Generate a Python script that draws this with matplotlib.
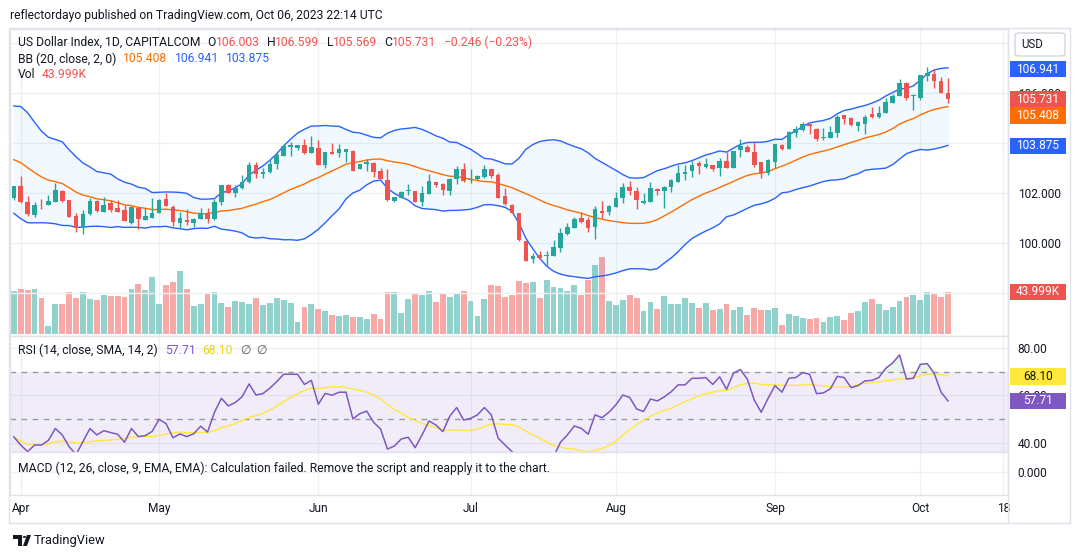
import numpy as np
import pandas as pd
import matplotlib
matplotlib.use("Agg")
import matplotlib.pyplot as plt
from matplotlib import transforms
from matplotlib.patches import Rectangle, FancyBboxPatch, Circle, Polygon
from matplotlib.lines import Line2D

plt.rcParams['font.family'] = ['Roboto', 'DejaVu Sans']

W, H = 1080, 557

# US Dollar Index, 1D, CAPITALCOM
start_date = '2023-03-31'
axis_end = '2023-10-18'

opens = [101.80, 102.27, 101.61, 101.11, 101.48, 101.52, 101.63, 102.07, 101.69, 101.07,
         100.57, 101.15, 101.67, 101.24, 101.60, 101.40, 101.31, 100.80, 101.40, 100.91,
         101.00, 101.20, 101.75, 101.43, 100.80, 100.91, 100.80, 100.95, 101.20, 100.95,
         101.64, 102.31, 102.00, 102.17, 102.44, 103.11, 102.76, 102.81, 103.15, 103.48,
         103.83, 103.80, 103.91, 103.59, 103.79, 103.11, 103.63, 103.59, 103.64, 103.67,
         102.93, 103.16, 103.17, 102.85, 102.51, 101.67, 101.80, 102.05, 102.07, 101.61,
         101.96, 102.41, 102.35, 102.08, 102.55, 102.95, 102.51, 102.55, 102.61, 102.95,
         102.71, 101.87, 101.51, 101.20, 100.08, 99.33, 99.51, 99.47, 99.48, 99.80,
         100.34, 100.60, 100.97, 100.89, 100.63, 101.27, 101.23, 101.44, 101.77, 102.21,
         102.07, 101.59, 101.64, 102.15, 102.08, 102.23, 102.44, 102.76, 102.87, 103.19,
         103.04, 103.12, 102.97, 103.27, 103.00, 103.71, 103.81, 103.61, 103.21, 102.77,
         103.24, 103.91, 103.76, 104.37, 104.49, 104.75, 104.55, 104.20, 104.20, 104.40,
         105.11, 104.99, 104.68, 104.75, 105.15, 105.01, 105.20, 105.57, 105.88, 106.37,
         105.85, 105.80, 106.67, 106.73, 106.47, 106.003]
highs = [102.28, 102.67, 101.87, 101.61, 101.75, 101.91, 102.40, 102.11, 101.72, 101.20,
         101.31, 101.80, 101.71, 101.81, 101.71, 101.69, 101.51, 101.47, 101.44, 101.37,
         101.79, 101.73, 101.99, 101.51, 101.23, 101.33, 100.97, 101.40, 101.37, 101.73,
         102.31, 102.35, 102.29, 102.71, 103.24, 103.21, 102.99, 103.29, 103.64, 103.93,
         104.04, 103.91, 104.16, 104.27, 104.11, 103.64, 103.99, 103.96, 103.75, 103.71,
         103.15, 103.34, 103.24, 102.99, 102.95, 101.84, 102.08, 102.33, 102.07, 102.28,
         102.75, 102.41, 102.40, 102.60, 103.08, 103.17, 102.95, 102.69, 103.10, 102.95,
         102.79, 102.20, 101.53, 101.20, 100.08, 99.60, 99.68, 99.67, 100.11, 100.57,
         100.77, 101.03, 101.21, 101.04, 101.47, 101.67, 101.51, 102.04, 102.37, 102.47,
         102.23, 101.97, 102.41, 102.17, 102.28, 102.55, 103.11, 103.11, 103.25, 103.27,
         103.37, 103.12, 103.37, 103.64, 103.68, 104.13, 103.91, 104.01, 103.21, 103.35,
         103.95, 103.95, 104.47, 104.67, 104.83, 104.75, 104.57, 104.57, 104.67, 105.11,
         105.11, 105.01, 104.88, 105.11, 105.44, 105.47, 105.77, 105.93, 106.55, 106.43,
         105.93, 106.71, 107.04, 106.93, 106.61, 106.599]
lows = [101.69, 101.60, 101.08, 101.04, 101.33, 101.50, 101.61, 101.64, 101.03, 100.44,
        100.36, 101.11, 101.24, 101.24, 101.24, 101.24, 100.87, 100.75, 100.55, 100.91,
        101.00, 101.20, 101.47, 100.67, 100.60, 100.71, 100.61, 100.95, 100.80, 100.91,
        101.51, 101.97, 101.83, 102.15, 102.39, 102.60, 102.60, 102.79, 102.95, 103.48,
        103.48, 103.69, 103.53, 103.59, 103.12, 103.00, 103.53, 103.43, 103.24, 102.88,
        102.93, 102.88, 102.64, 102.56, 101.67, 101.61, 101.80, 101.91, 101.61, 101.47,
        101.96, 102.23, 101.91, 101.91, 102.36, 102.41, 102.40, 102.52, 102.58, 102.57,
        101.80, 101.51, 101.20, 100.08, 99.28, 99.17, 99.37, 99.08, 99.48, 99.61,
        100.31, 100.60, 100.77, 100.43, 100.15, 101.00, 101.11, 101.44, 101.60, 101.91,
        101.35, 101.55, 101.64, 101.91, 101.37, 102.04, 102.44, 102.51, 102.64, 102.75,
        103.00, 102.85, 102.68, 102.98, 102.97, 103.44, 103.64, 103.04, 102.60, 102.71,
        102.97, 103.71, 103.76, 104.24, 104.47, 104.35, 104.08, 104.11, 104.20, 104.24,
        104.75, 104.68, 104.47, 104.35, 104.97, 104.99, 105.20, 105.57, 105.88, 105.71,
        105.31, 105.71, 106.48, 106.20, 105.977, 105.569]
closes = [102.27, 101.64, 101.15, 101.51, 101.45, 101.67, 102.11, 101.67, 101.04, 100.57,
          101.13, 101.67, 101.27, 101.51, 101.31, 101.24, 100.87, 101.43, 100.95, 101.07,
          101.20, 101.71, 101.47, 100.84, 100.99, 100.83, 100.95, 101.20, 100.96, 101.63,
          102.31, 102.00, 102.17, 102.41, 103.11, 102.76, 102.84, 103.15, 103.51, 103.88,
          103.89, 103.91, 103.60, 103.83, 103.12, 103.64, 103.56, 103.75, 103.75, 102.88,
          103.15, 103.23, 102.84, 102.56, 101.71, 101.81, 102.01, 102.11, 101.64, 101.99,
          102.47, 102.31, 102.09, 102.55, 102.95, 102.47, 102.53, 102.67, 102.95, 102.67,
          101.80, 101.53, 101.20, 100.11, 99.28, 99.47, 99.40, 99.51, 99.81, 100.37,
          100.61, 100.93, 100.81, 100.60, 101.35, 101.19, 101.47, 101.77, 102.21, 102.07,
          101.72, 101.67, 102.17, 102.07, 102.24, 102.51, 102.79, 102.83, 103.11, 103.08,
          103.15, 102.96, 103.27, 103.00, 103.68, 103.87, 103.64, 103.11, 102.77, 103.31,
          103.95, 103.73, 104.44, 104.53, 104.73, 104.68, 104.15, 104.24, 104.44, 105.04,
          104.95, 104.71, 104.84, 105.04, 105.04, 105.20, 105.63, 105.88, 106.37, 105.80,
          105.89, 106.71, 106.77, 106.48, 105.977, 105.731]
# closes before Mar 31, needed for the first 20-day bands
march_closes = [103.98, 105.29, 105.33, 104.97, 104.25, 103.27, 103.28, 104.30, 104.08, 103.53,
                102.95, 102.98, 102.21, 102.19, 102.78, 102.53, 102.11, 102.31, 101.82]

volume_k = [45.0, 47.1, 46.1, 47.1, 38.1, 8.7, 31.4, 31.4, 44.0, 38.1,
            44.0, 36.7, 35.6, 40.9, 39.8, 39.8, 38.8, 47.1, 52.4, 46.1,
            59.7, 31.4, 51.3, 54.5, 66.0, 47.1, 29.3, 31.4, 41.9, 44.0,
            32.5, 28.3, 34.6, 33.5, 31.4, 37.7, 30.4, 32.5, 37.7, 35.6,
            32.5, 12.6, 28.3, 31.4, 26.2, 24.1, 19.9, 18.9, 19.9, 17.8,
            17.8, 15.7, 21.0, 15.7, 44.0, 44.0, 22.0, 36.7, 41.9, 40.9,
            45.0, 33.5, 41.9, 38.8, 41.9, 45.0, 34.6, 18.9, 36.7, 51.3,
            50.3, 38.8, 40.9, 55.5, 53.4, 54.5, 37.7, 56.6, 49.2, 48.2,
            45.0, 51.3, 40.9, 56.6, 72.3, 80.7, 34.6, 30.4, 35.6, 40.9,
            37.7, 24.1, 33.5, 26.2, 39.8, 31.4, 31.4, 37.7, 32.5, 27.2,
            32.5, 25.1, 26.2, 31.4, 25.1, 28.3, 19.9, 27.2, 25.1, 25.1,
            27.2, 9.4, 21.0, 18.9, 16.8, 15.7, 16.8, 12.6, 17.8, 18.9,
            14.7, 22.0, 24.1, 33.5, 36.7, 31.4, 25.1, 28.3, 34.6, 38.8,
            40.9, 35.6, 44.0, 41.9, 38.8, 43.999]

rsi = [42.5, 39.0, 36.2, 39.0, 39.0, 41.0, 46.0, 43.3, 38.3, 35.0,
       40.5, 46.0, 43.3, 45.1, 44.3, 43.6, 40.2, 46.0, 42.6, 43.0,
       44.8, 49.9, 48.1, 42.1, 43.7, 42.6, 43.8, 47.0, 44.5, 52.9,
       58.8, 55.6, 57.0, 59.5, 64.9, 60.2, 60.8, 63.1, 65.9, 69.0,
       69.0, 69.0, 64.7, 66.4, 56.3, 60.9, 60.1, 61.4, 61.4, 50.1,
       52.3, 53.4, 48.6, 45.8, 37.3, 38.6, 41.6, 42.3, 37.9, 43.3,
       49.2, 47.5, 44.7, 51.2, 54.9, 49.6, 50.3, 51.8, 54.9, 51.8,
       41.9, 39.0, 36.2, 30.0, 24.0, 26.0, 25.0, 28.0, 34.0, 40.2,
       43.3, 47.1, 46.1, 43.6, 51.8, 50.6, 52.9, 56.0, 60.2, 59.2,
       54.3, 53.2, 58.5, 57.7, 59.4, 61.6, 64.5, 64.5, 67.3, 67.3,
       67.6, 64.7, 67.9, 62.6, 69.5, 71.0, 66.9, 58.1, 52.9, 58.8,
       64.2, 61.4, 67.3, 67.6, 69.7, 69.0, 60.8, 61.1, 62.8, 68.1,
       67.6, 63.3, 64.2, 66.2, 66.4, 67.6, 71.5, 73.8, 77.2, 67.0,
       67.3, 73.2, 73.5, 69.4, 61.4, 57.71]

# values shown in the legends
ohlc_last = ['106.003', '106.599', '105.569', '105.731']
change_text = '\u22120.246 (\u22120.23%)'
bb_last = [105.408, 106.941, 103.875]
rsi_last = [57.71, 68.10]
price_ticks = [100, 102, 104, 106]
rsi_ticks = [40, 60, 80]

# colours
UP, DOWN = '#26A69A', '#EF5350'
VUP, VDOWN = '#92D2CC', '#F7A9A7'
BLUE, ORANGE = '#2962FF', '#FF6D00'
PURPLE, YELLOW = '#7E57C2', '#FFE83B'
TXT = '#131722'
GRID = '#EEF0F4'
BORDER = '#E0E3EB'

# ---- derived series ----
n = len(closes)
x = np.arange(n)
o, h, l, c = (np.array(v) for v in (opens, highs, lows, closes))
up = c >= o

full = pd.Series(march_closes + closes)
mid = full.rolling(20).mean().to_numpy()[len(march_closes):]
sd = full.rolling(20).std(ddof=0).to_numpy()[len(march_closes):]
upper, lower = mid + 2 * sd, mid - 2 * sd

rsi_arr = np.array(rsi)
rsi_ma = pd.Series(rsi).rolling(14, min_periods=1).mean().to_numpy()

days = pd.bdate_range(start_date, axis_end)
tick_pos, tick_lab = [], []
for m in range(4, 11):
    idx = np.where(days.month == m)[0][0]
    tick_pos.append(idx)
    tick_lab.append(days[idx].strftime('%b'))
tick_pos.append(len(days) - 1)
tick_lab.append(str(days[-1].day))

# ---- layout (pixel based) ----
fig = plt.figure(figsize=(W / 100, H / 100), dpi=100)
fig.patch.set_facecolor('white')


def rect(x0, y0, x1, y1):
    return [x0 / W, 1 - y1 / H, (x1 - x0) / W, (y1 - y0) / H]


PL, PR = 10, 1008
BAR0, STEP = 13.8, 6.92
xlim = ((PL - BAR0) / STEP, (PR - BAR0) / STEP)

vax = fig.add_axes(rect(PL, 29, PR, 336))
ax = fig.add_axes(rect(PL, 29, PR, 336))
rax = fig.add_axes(rect(PL, 336, PR, 452))
mac = fig.add_axes(rect(PL, 452, PR, 495))

for a in (vax, ax, rax, mac):
    a.set_xlim(*xlim)
    a.tick_params(axis='x', bottom=False, labelbottom=False)
    for s in a.spines.values():
        s.set_color(BORDER)
        s.set_linewidth(1)
ax.set_facecolor('none')
for s in vax.spines.values():
    s.set_visible(False)
vax.set_yticks([])

ax.set_ylim(96.268, 108.548)
vax.set_ylim(-2.1, 319.5)
rax.set_ylim(36.06, 85.21)
mac.set_ylim(-1.12, 1.0)

# grid
for t in tick_pos:
    for a in (vax, rax, mac):
        a.axvline(t, color=GRID, lw=1, zorder=0)
for p in range(98, 110, 2):
    ax.axhline(p, color=GRID, lw=1, zorder=0)
for v in rsi_ticks:
    rax.axhline(v, color=GRID, lw=1, zorder=0)
mac.axhline(0, color=GRID, lw=1, zorder=0)

# volume
vax.bar(x, volume_k, width=0.84, color=np.where(up, VUP, VDOWN), lw=0, zorder=2)

# bollinger bands
ax.fill_between(x, lower, upper, color='#2196F3', alpha=0.06, lw=0, zorder=1)
ax.plot(x, upper, color=BLUE, lw=1, zorder=2)
ax.plot(x, lower, color=BLUE, lw=1, zorder=2)
ax.plot(x, mid, color=ORANGE, lw=1, zorder=2)

# candles
cols = np.where(up, UP, DOWN)
ax.vlines(x, l, h, colors=cols, lw=1, zorder=3)
ax.bar(x, np.maximum(np.abs(c - o), 0.035), bottom=np.minimum(o, c), width=0.66,
       color=cols, lw=0, zorder=4)

# rsi
rax.axhspan(30, 70, color=PURPLE, alpha=0.1, lw=0, zorder=0.5)
rax.fill_between(x, rsi_arr, 70, where=rsi_arr >= 70, interpolate=True,
                 color='#4CAF50', alpha=0.13, lw=0, zorder=1)
for lvl in (70, 50):
    rax.axhline(lvl, color='#9598A1', lw=1, dashes=(4, 4), zorder=1)
rax.plot(x, rsi_ma, color=YELLOW, lw=1, zorder=2)
rax.plot(x, rsi_arr, color=PURPLE, lw=1.1, zorder=3)

# right axes
ax.yaxis.tick_right()
ax.set_yticks(price_ticks)
ax.set_yticklabels(['%.3f' % p for p in price_ticks])
rax.yaxis.tick_right()
rax.set_yticks(rsi_ticks)
rax.set_yticklabels(['%.2f' % v for v in rsi_ticks])
mac.yaxis.tick_right()
mac.set_yticks([0])
mac.set_yticklabels(['0.000'])
for a in (ax, rax, mac):
    a.tick_params(axis='y', length=0, pad=7, labelsize=8.6, labelcolor=TXT)

mac.set_xticks(tick_pos)
mac.set_xticklabels(tick_lab)
mac.tick_params(axis='x', bottom=True, length=0, labelbottom=True, pad=5,
                labelsize=8.6, labelcolor=TXT)


def tag(a, value, text, fc, tc='white', dy=0):
    y0, y1 = a.get_ylim()
    per_px = (y1 - y0) / (a.get_position().height * H)
    yc = value - dy * per_px
    tr = transforms.blended_transform_factory(a.transAxes, a.transData)
    bx = (1010 - PL) / (PR - PL)
    bw = 56 / (PR - PL)
    a.add_patch(Rectangle((bx, yc - 8.3 * per_px), bw, 16.6 * per_px, transform=tr,
                          fc=fc, ec='none', clip_on=False, zorder=5))
    a.text(bx + bw / 2, yc, text, transform=tr, ha='center', va='center', color=tc,
           fontsize=8.6, clip_on=False, zorder=6)


tag(ax, bb_last[1], '%.3f' % bb_last[1], BLUE)
tag(ax, closes[-1], '%.3f' % closes[-1], DOWN)
tag(ax, bb_last[0], '%.3f' % bb_last[0], ORANGE, dy=8.2)
tag(ax, bb_last[2], '%.3f' % bb_last[2], BLUE)
tag(vax, volume_k[-1], '%.3fK' % volume_k[-1], DOWN)
tag(rax, rsi_last[1], '%.2f' % rsi_last[1], YELLOW, tc=TXT)
tag(rax, rsi_last[0], '%.2f' % rsi_last[0], PURPLE)

# frame lines
fig.add_artist(Rectangle((9 / W, 1 - 523 / H), (1070 - 9) / W, (523 - 28) / H,
                         transform=fig.transFigure, fill=False, ec=BORDER, lw=1))
fig.add_artist(Line2D([PR / W, PR / W], [1 - 28 / H, 1 - 523 / H], color=BORDER, lw=1))

# USD button
fig.add_artist(FancyBboxPatch((1015 / W, 1 - 56 / H), 50 / W, 23 / H,
                              boxstyle='round,pad=0,rounding_size=0.004',
                              transform=fig.transFigure, fc='white', ec='#D1D4DC', lw=1))
fig.text(1021 / W, 1 - 44.5 / H, 'USD', fontsize=8.3, color=TXT, va='center')

# legends
renderer = fig.canvas.get_renderer()


def line_text(x0, y0, parts, size=8.7):
    xx = x0
    for s, col, gap in parts:
        t = fig.text(xx / W, 1 - y0 / H, s, color=col, fontsize=size, va='center', ha='left')
        xx += t.get_window_extent(renderer).width + gap


fig.text(10 / W, 1 - 15 / H, 'reflectordayo published on TradingView.com, Oct 06, 2023 22:14 UTC',
         fontsize=8.7, color=TXT, va='center')

line_text(18, 42, [('US Dollar Index, 1D, CAPITALCOM', TXT, 7),
                   ('O', TXT, 0), (ohlc_last[0], DOWN, 7),
                   ('H', TXT, 0), (ohlc_last[1], DOWN, 7),
                   ('L', TXT, 0), (ohlc_last[2], DOWN, 7),
                   ('C', TXT, 0), (ohlc_last[3], DOWN, 7),
                   (change_text, DOWN, 0)])
line_text(18, 59, [('BB (20, close, 2, 0)', TXT, 7),
                   ('%.3f' % bb_last[0], ORANGE, 7),
                   ('%.3f' % bb_last[1], BLUE, 7),
                   ('%.3f' % bb_last[2], BLUE, 0)])
line_text(18, 75, [('Vol', TXT, 6), ('%.3fK' % volume_k[-1], DOWN, 0)])
line_text(18, 350, [('RSI (14, close, SMA, 14, 2)', TXT, 7),
                    ('%.2f' % rsi_last[0], PURPLE, 7),
                    ('%.2f' % rsi_last[1], '#E8CF1C', 7),
                    ('\u2205', '#555555', 6), ('\u2205', '#555555', 0)])
line_text(18, 468, [('MACD (12, 26, close, 9, EMA, EMA): Calculation failed. '
                     'Remove the script and reapply it to the chart.', TXT, 0)])

# TradingView logo
logo = '#131722'
fig.add_artist(Polygon([(13 / W, 1 - 535 / H), (22 / W, 1 - 535 / H), (22 / W, 1 - 546 / H),
                        (18 / W, 1 - 546 / H), (18 / W, 1 - 539 / H), (13 / W, 1 - 539 / H)],
                       closed=True, transform=fig.transFigure, fc=logo, ec='none'))
fig.add_artist(Circle((24.5 / W, 1 - 537 / H), 1.8 / W, transform=fig.transFigure, fc=logo, ec='none'))
fig.add_artist(Polygon([(23 / W, 1 - 546 / H), (27 / W, 1 - 535 / H), (31 / W, 1 - 535 / H),
                        (27 / W, 1 - 546 / H)], closed=True, transform=fig.transFigure,
                       fc=logo, ec='none'))
fig.text(34 / W, 1 - 540.5 / H, 'TradingView', fontsize=9.3, color=TXT, va='center')

fig.savefig('out.png', dpi=100, facecolor='white')
